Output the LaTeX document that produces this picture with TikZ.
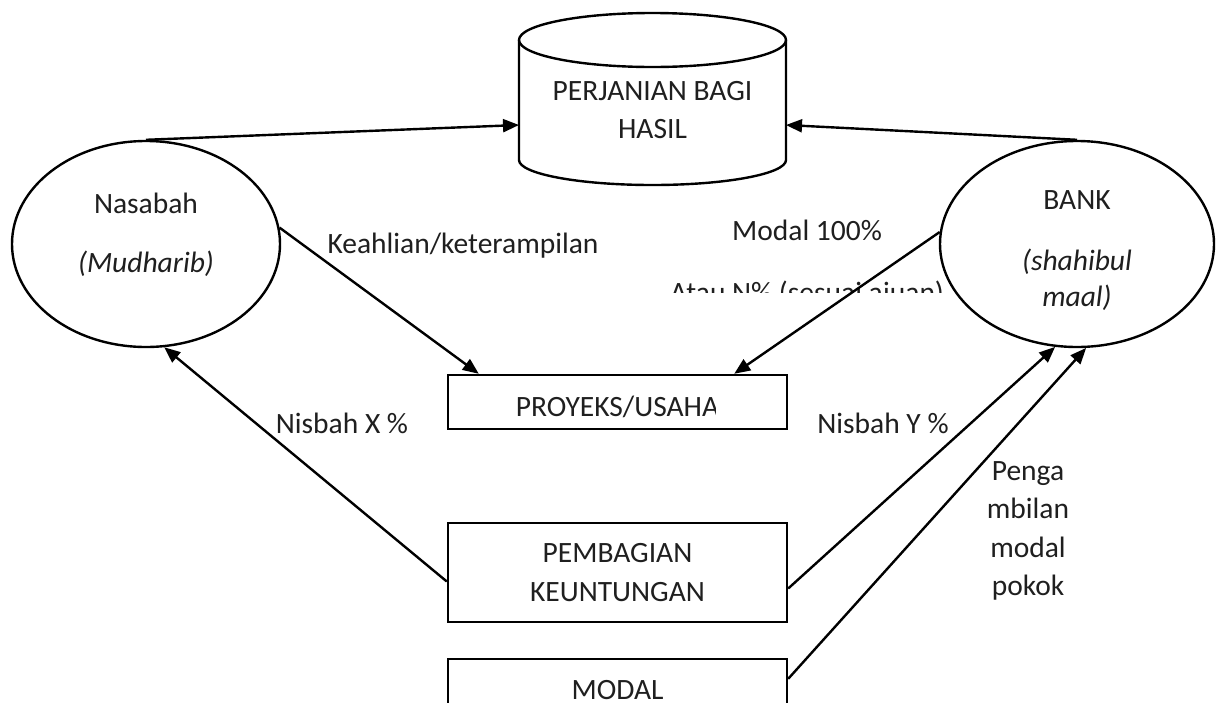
\documentclass[tikz,border=0pt]{standalone}
\usepackage{fontspec}
\setmainfont{Carlito}
\usetikzlibrary{shapes.geometric,arrows.meta,calc}
\tikzset{
  ln/.style={line width=2.4pt,line join=miter},
  arr/.style={ln,-{Triangle[length=16pt,width=13pt]}},
  oval/.style={ellipse,draw,line width=2.4pt,inner sep=0pt},
  boxnode/.style={rectangle,draw,line width=2.4pt,inner sep=0pt},
  txt/.style={inner sep=0pt,anchor=base,text=black!88,font=\fontsize{29.5}{38}\selectfont}
}
\begin{document}
\begin{tikzpicture}[x=1pt,y=-1pt]
\clip (0,0) rectangle (1225,702);
\fill[white] (0,0) rectangle (1225,702);
% cylinder
\draw[ln] (652.5,40) ellipse [x radius=133.5pt, y radius=27pt];
\draw[ln] (519,40) -- (519,160) arc[start angle=180, end angle=360, x radius=133.5pt, y radius=25pt] -- (786,40);
\coordinate (cylL) at (519,125);
\coordinate (cylR) at (786,125);
\node[txt] (cyl1) at (652.5,100) {PERJANIAN BAGI};
\node[txt] (cyl2) at (652.5,138) {HASIL};
% ellipses
\node[oval,minimum width=268pt,minimum height=206pt] (nas) at (146,244) {};
\node[oval,minimum width=274pt,minimum height=206pt] (bank) at (1077,244) {};
\node[txt] (nas1) at (146,213) {Nasabah};
\node[txt] (nas2) at (146,272) {\itshape (Mudharib)};
\node[txt] (bank1) at (1077,209) {BANK};
\node[txt] (bank2) at (1077,270) {\itshape (shahibul};
\node[txt] (bank3) at (1077,306) {\itshape maal)};
% boxes
\node[boxnode,minimum width=339pt,minimum height=54pt] (proj) at (617.5,402) {};
\node[boxnode,minimum width=339pt,minimum height=99pt] (pemb) at (617.5,572.5) {};
\node[boxnode,minimum width=339pt,minimum height=100pt] (modal) at (617.5,709) {};
\begin{scope}
\clip (480,380) rectangle (715,421);
\node[txt] (projt) at (617.5,416) {PROYEKS/USAHA};
\end{scope}
\node[txt] (pemb1) at (617.5,562) {PEMBAGIAN};
\node[txt] (pemb2) at (617.5,601) {KEUNTUNGAN};
\node[txt] (modalt) at (617.5,699) {MODAL};
% labels
\node[txt] (keah) at (463,253) {Keahlian/keterampilan};
\node[txt] (mod100) at (807,240) {Modal 100\%};
\begin{scope}
\clip (640,270) rectangle (960,292);
\node[txt] (atau) at (807,302) {Atau N\% (sesuai ajuan)};
\end{scope}
\node[txt] (nisx) at (342,433) {Nisbah X \%};
\node[txt] (nisy) at (883,433) {Nisbah Y \%};
\node[txt] (p1) at (1028,480) {Penga};
\node[txt] (p2) at (1028,518) {mbilan};
\node[txt] (p3) at (1028,557) {modal};
\node[txt] (p4) at (1028,595) {pokok};
% connectors
\draw[arr] (nas.north) -- (cylL);
\draw[arr] (bank.north) -- (cylR);
\draw[arr] (nas.7) -- ($(proj.north west)+(32,0)$);
\draw[arr] (bank.175) -- ($(proj.north east)+(-54,0)$);
\draw[arr] ($(pemb.west)+(0,9)$) -- (nas.-80);
\draw[arr] ($(pemb.east)+(0,16)$) -- (bank.258);
\draw[arr] ($(modal.north east)+(0,21)$) -- (bank.-85);
\end{tikzpicture}
\end{document}
